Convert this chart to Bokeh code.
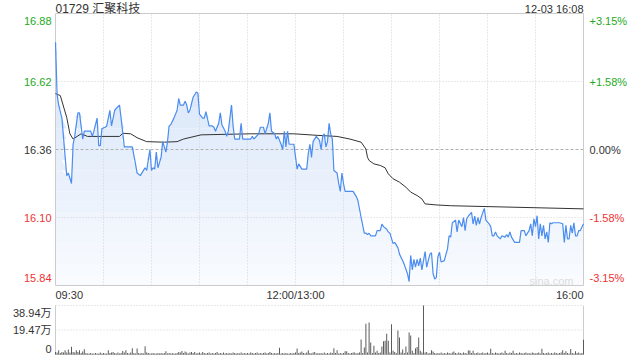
import numpy as np
from bokeh.plotting import figure
from bokeh.models import Range1d
from bokeh.core.properties import value
from bokeh.embed import file_html
from bokeh.resources import INLINE

# ---------------- data ----------------
title_text = "01729 汇聚科技"
stamp_text = "12-03 16:08"
prev_close = 16.36

# trading minutes since 09:30 (lunch break removed: 150 = 12:00/13:00, 330 = 16:00)
price_t = [0, 1, 2, 4, 7, 8, 10, 11, 12, 14, 15, 17, 18, 20, 22, 23, 24, 26, 27, 28,
           29, 31, 32, 33, 34, 35, 36, 37, 40, 41, 43, 48, 50, 51, 53, 55, 56, 57, 59, 60,
           61, 62, 63, 64, 66, 67, 68, 69, 70, 71, 72, 74, 76, 77, 78, 80, 81, 82, 83, 84,
           86, 88, 89, 90, 92, 93, 94, 96, 98, 99, 100, 102, 103, 104, 106, 107, 108, 109, 110, 111,
           112, 115, 116, 117, 122, 123, 124, 127, 128, 130, 131, 133, 134, 135, 137, 138, 139, 141, 142, 143,
           144, 145, 146, 149, 151, 152, 154, 157, 158, 159, 160, 161, 163, 165, 166, 167, 168, 169, 170, 171,
           172, 173, 174, 176, 177, 178, 179, 180, 181, 186, 188, 189, 191, 193, 194, 195, 196, 197, 200, 201,
           203, 204, 205, 207, 208, 209, 211, 212, 214, 215, 217, 218, 220, 221, 222, 223, 224, 225, 226, 227,
           228, 229, 231, 232, 233, 234, 235, 236, 237, 238, 239, 240, 241, 243, 245, 246, 247, 248, 250, 251,
           252, 254, 255, 256, 257, 258, 260, 261, 262, 263, 264, 265, 266, 268, 269, 271, 272, 273, 274, 275,
           276, 278, 279, 281, 282, 283, 284, 285, 287, 290, 291, 293, 294, 296, 297, 298, 299, 300, 301, 302,
           303, 304, 305, 306, 307, 308, 309, 310, 311, 313, 315, 317, 318, 319, 320, 321, 322, 323, 324, 325,
           326, 327, 328, 330]
price = [16.77, 16.57, 16.53, 16.48, 16.26, 16.27, 16.23, 16.38, 16.41, 16.50, 16.50, 16.40, 16.43, 16.43, 16.43, 16.41, 16.43, 16.48, 16.375, 16.375,
         16.44, 16.445, 16.45, 16.48, 16.51, 16.45, 16.48, 16.51, 16.53, 16.48, 16.37, 16.37, 16.305, 16.27, 16.26, 16.28, 16.29, 16.28, 16.36, 16.28,
         16.29, 16.285, 16.35, 16.29, 16.33, 16.39, 16.37, 16.35, 16.39, 16.45, 16.455, 16.48, 16.51, 16.555, 16.53, 16.53, 16.545, 16.53, 16.50, 16.51,
         16.56, 16.58, 16.575, 16.495, 16.48, 16.48, 16.505, 16.45, 16.45, 16.445, 16.43, 16.46, 16.50, 16.455, 16.43, 16.41, 16.43, 16.48, 16.53, 16.45,
         16.40, 16.40, 16.46, 16.40, 16.40, 16.41, 16.40, 16.42, 16.445, 16.445, 16.42, 16.46, 16.50, 16.43, 16.42, 16.40, 16.41, 16.38, 16.36, 16.43,
         16.37, 16.43, 16.38, 16.38, 16.285, 16.305, 16.285, 16.285, 16.345, 16.38, 16.33, 16.39, 16.41, 16.395, 16.36, 16.41, 16.42, 16.37, 16.39, 16.46,
         16.42, 16.40, 16.28, 16.27, 16.23, 16.20, 16.27, 16.23, 16.20, 16.20, 16.18, 16.165, 16.10, 16.04, 16.04, 16.035, 16.04, 16.03, 16.03, 16.05,
         16.05, 16.075, 16.065, 16.055, 16.045, 16.04, 16.00, 16.005, 15.985, 15.96, 15.935, 15.92, 15.885, 15.855, 15.955, 15.90, 15.94, 15.91, 15.94, 15.915,
         15.945, 15.90, 15.97, 15.91, 15.935, 15.96, 15.965, 15.885, 15.865, 15.87, 15.95, 15.967, 15.93, 15.935, 15.98, 16.03, 16.025, 16.08, 16.09, 16.045,
         16.09, 16.065, 16.10, 16.05, 16.095, 16.105, 16.12, 16.075, 16.105, 16.07, 16.10, 16.075, 16.10, 16.135, 16.09, 16.076, 16.065, 16.03, 16.03, 16.045,
         16.03, 16.018, 16.03, 16.025, 16.035, 16.025, 16.045, 16.025, 16.005, 16.005, 16.05, 16.05, 16.03, 16.05, 16.076, 16.03, 16.095, 16.065, 16.107, 16.018,
         16.076, 16.03, 16.07, 16.018, 16.045, 16.005, 16.08, 16.076, 16.08, 16.08, 16.08, 16.076, 16.005, 16.07, 16.018, 16.018, 16.07, 16.04, 16.08, 16.03,
         16.03, 16.05, 16.05, 16.076]

avg_t = [0, 3, 7, 9, 11, 16, 20, 40, 42, 47, 51, 57, 68, 76, 80, 91, 122, 149, 164, 176,
         184, 191, 194, 195, 196, 199, 203, 206, 208, 211, 215, 219, 222, 226, 229, 231, 238, 247, 330]
avg_price = [16.574, 16.566, 16.483, 16.42, 16.40, 16.42, 16.41, 16.41, 16.422, 16.42, 16.405, 16.39, 16.388, 16.39, 16.40, 16.416, 16.42, 16.42, 16.414, 16.41,
             16.40, 16.388, 16.362, 16.33, 16.318, 16.305, 16.299, 16.29, 16.267, 16.248, 16.235, 16.216, 16.197, 16.184, 16.171, 16.152, 16.148, 16.145, 16.133]

# volume per minute, in 万 shares
volume = [2.0, 1.6, 3.4, 1.2, 2.0, 1.6, 3.4, 1.6, 4.0, 1.6,
          6.1, 2.0, 1.6, 3.4, 2.0, 3.4, 1.2, 2.4, 4.2, 1.2,
          0.8, 0.8, 1.2, 0.8, 0.8, 1.2, 0.8, 0.8, 1.6, 0.8,
          1.2, 0.8, 0.8, 3.4, 1.2, 1.6, 2.0, 1.2, 0.8, 1.6,
          0.8, 1.2, 2.8, 1.6, 3.4, 1.2, 0.8, 1.6, 5.0, 1.2,
          0.8, 4.8, 1.2, 0.8, 1.2, 0.8, 6.6, 1.6, 1.2, 0.8,
          0.8, 1.2, 0.8, 0.8, 1.2, 0.8, 1.2, 0.8, 1.2, 2.5,
          0.8, 1.2, 0.8, 1.2, 0.8, 0.8, 1.2, 2.0, 1.6, 2.8,
          1.2, 2.4, 1.6, 0.8, 1.6, 2.0, 1.2, 2.0, 0.8, 1.2,
          1.6, 0.8, 2.0, 1.2, 0.8, 1.2, 1.6, 0.8, 1.2, 0.8,
          1.2, 2.0, 0.8, 1.2, 0.8, 1.6, 0.8, 1.2, 0.8, 1.2,
          0.8, 1.6, 1.2, 0.8, 1.2, 0.8, 1.6, 0.8, 1.2, 0.8,
          1.2, 0.8, 1.6, 1.2, 0.8, 1.2, 1.6, 0.8, 1.2, 0.8,
          1.2, 1.6, 0.8, 1.2, 2.0, 1.2, 0.8, 1.2, 0.8, 1.2,
          5.3, 0.8, 1.2, 0.8, 1.2, 0.8, 0.8, 1.2, 0.8, 1.2,
          1.6, 4.8, 1.2, 1.6, 2.4, 1.2, 0.8, 1.6, 3.4, 1.2,
          0.8, 1.6, 2.0, 0.8, 1.2, 0.8, 1.2, 0.8, 1.6, 0.8,
          1.2, 0.8, 1.6, 1.2, 5.0, 1.2, 3.4, 0.8, 1.2, 0.8,
          1.2, 2.6, 2.6, 1.2, 0.8, 1.2, 1.6, 1.6, 0.8, 1.2,
          1.6, 12.0, 1.2, 5.5, 24.5, 1.6, 25.5, 9.5, 1.2, 7.0,
          1.6, 3.0, 1.2, 1.6, 6.4, 10.5, 11.0, 16.5, 11.0, 1.6,
          24.0, 3.0, 2.0, 1.2, 19.0, 13.5, 1.6, 4.0, 1.2, 6.4,
          1.6, 17.5, 15.0, 3.0, 1.2, 5.0, 6.0, 13.5, 3.0, 1.6,
          38.94, 1.6, 2.0, 0.8, 1.2, 3.4, 2.4, 1.2, 0.8, 1.2,
          0.8, 1.6, 0.8, 1.2, 0.8, 1.6, 1.2, 0.8, 1.6, 2.4,
          1.2, 0.8, 1.6, 1.2, 0.8, 1.6, 1.2, 0.8, 3.2, 3.2,
          1.2, 3.0, 0.8, 1.2, 1.6, 0.8, 1.2, 1.6, 0.8, 1.2,
          1.6, 0.8, 4.5, 1.2, 0.8, 1.6, 1.2, 0.8, 1.2, 1.6,
          0.8, 3.0, 1.2, 0.8, 1.6, 1.2, 3.0, 0.8, 1.2, 0.8,
          1.6, 1.2, 0.8, 1.2, 1.6, 0.8, 1.2, 0.8, 1.6, 1.2,
          0.8, 1.2, 1.6, 0.8, 4.6, 1.2, 0.8, 1.2, 1.6, 0.8,
          1.2, 0.8, 1.6, 1.2, 0.8, 1.2, 1.6, 3.4, 1.2, 2.6,
          1.2, 0.8, 4.3, 1.2, 0.8, 2.6, 1.2, 1.6, 0.8, 1.2,
          11.7]
vol_minute = list(range(len(volume)))

price_ticks = [16.88, 16.62, 16.36, 16.10, 15.84]
price_tick_labels = ["16.88", "16.62", "16.36", "16.10", "15.84"]
pct_tick_labels = ["+3.15%", "+1.58%", "0.00%", "-1.58%", "-3.15%"]
tick_kind = ["up", "up", "flat", "down", "down"]
time_ticks = [0, 150, 330]
time_tick_labels = ["09:30", "12:00/13:00", "16:00"]
time_grid = [30, 60, 90, 120, 150, 180, 210, 240, 270, 300]
vol_ticks = [38.94, 19.47, 0]
vol_tick_labels = ["38.94万", "19.47万", "0"]

# ---------------- layout / style ----------------
W, H = 640, 360
BOX_L, BOX_R, BOX_T, BOX_B = 55, 583, 13, 285      # price panel, pixels
VOL_T, VOL_B = 305, 354                             # volume panel, pixels
FONT = "Liberation Sans, Noto Sans CJK SC"
COLORS = {"up": "#22aa22", "flat": "#333333", "down": "#ee3333"}
GRID = "#d2d2d2"
BORDER = "#cccccc"

T0, T1 = time_ticks[0], time_ticks[-1]
P0, P1 = price_ticks[-1], price_ticks[0]
V1 = vol_ticks[0]

xs = (BOX_R - BOX_L) / (T1 - T0)
ys = (BOX_B - BOX_T) / (P1 - P0)
vs = (VOL_B - VOL_T) / V1

p = figure(width=W, height=H,
           x_range=Range1d(T0 - BOX_L / xs, T1 + (W - BOX_R) / xs),
           y_range=Range1d(P0 - (H - BOX_B) / ys, P1 + BOX_T / ys),
           x_axis_type=None, y_axis_type=None, toolbar_location=None,
           output_backend="svg", min_border=0)
p.extra_y_ranges = {"vol": Range1d(0 - (H - VOL_B) / vs, V1 + VOL_T / vs)}
p.outline_line_color = None
p.background_fill_color = "white"
p.border_fill_color = "white"

# gradient area under the price line, built as stacked horizontal bands
pt = np.array(price_t, dtype=float)
pp = np.array(price, dtype=float)
edges = np.linspace(P0, P1, 27)
top_rgb = np.array([208, 224, 248])
bot_rgb = np.array([250, 252, 255])
for k in range(len(edges) - 1):
    lo, hi = edges[k], edges[k + 1]
    frac = (0.5 * (lo + hi) - P0) / (P1 - P0)
    rgb = (bot_rgb + (top_rgb - bot_rgb) * frac).astype(int)
    col = "#%02x%02x%02x" % tuple(rgb)
    y2 = np.clip(pp, lo, hi)
    p.varea(x=pt, y1=np.full_like(pp, lo), y2=y2, fill_color=col, fill_alpha=1.0)

# price panel grid lines
p.segment(x0=time_grid, y0=[P0] * len(time_grid), x1=time_grid, y1=[P1] * len(time_grid),
          line_color=GRID, line_dash="1 2", line_width=1)
inner = [v for v in price_ticks if P0 < v < P1 and v != prev_close]
p.segment(x0=[T0] * len(inner), y0=inner, x1=[T1] * len(inner), y1=inner,
          line_color=GRID, line_dash="1 2", line_width=1)
p.segment(x0=[T0], y0=[prev_close], x1=[T1], y1=[prev_close],
          line_color="#b0b0b0", line_dash="3 2", line_width=1)
# price panel border
p.quad(left=[T0], right=[T1], bottom=[P0], top=[P1], fill_color=None, line_color=BORDER, line_width=1)

# lines
p.line(avg_t, avg_price, line_color="#333333", line_width=1)
p.line(price_t, price, line_color="#4a8cf0", line_width=1.2)

# volume panel
p.segment(x0=[T0, T0], y0=vol_ticks[:2], x1=[T1, T1], y1=vol_ticks[:2],
          line_color=GRID, line_dash="1 2", line_width=1, y_range_name="vol")
p.segment(x0=[T0, T1, T0], y0=[0, 0, 0], x1=[T0, T1, T1], y1=[V1, V1, 0],
          line_color=BORDER, line_width=1, y_range_name="vol")
p.vbar(x=vol_minute, top=volume, bottom=0, width=0.6, fill_color="#555555", line_color=None,
       y_range_name="vol")


def txt(x, y, texts, colors, align, xoff=0, yoff=0, size="11px", yname="default"):
    p.text(x=x, y=y, text=texts, text_color=colors, text_align=align, text_baseline="middle",
           x_offset=xoff, y_offset=yoff, text_font=value(FONT), text_font_size=value(size),
           y_range_name=yname)


n = len(price_ticks)
for i, (v, t1, t2, kind) in enumerate(zip(price_ticks, price_tick_labels, pct_tick_labels, tick_kind)):
    yoff = 7 if i == 0 else (-8 if i == n - 1 else 0)
    txt([T0], [v], [t1], COLORS[kind], "left" if False else "right", xoff=-4, yoff=yoff)
    txt([T1], [v], [t2], COLORS[kind], "left", xoff=6, yoff=yoff)

for t, lbl, al in zip(time_ticks, time_tick_labels, ["left", "center", "right"]):
    txt([t], [P0], [lbl], "#333333", al, yoff=9)

txt([T0], [P1], [title_text], "#333333", "left", yoff=-5, size="12px")
txt([T1], [P1], [stamp_text], "#333333", "right", yoff=-5, size="11px")
txt([T1], [P0], ["sina.com"], "#dddddd", "right", xoff=-10, yoff=-5, size="11px")

for i, (v, lbl) in enumerate(zip(vol_ticks, vol_tick_labels)):
    yoff = 7 if i == 0 else (-6 if i == len(vol_ticks) - 1 else 0)
    txt([T0], [v], [lbl], "#333333", "right", xoff=-4, yoff=yoff, yname="vol")

open("out.html", "w").write(file_html(p, INLINE))
